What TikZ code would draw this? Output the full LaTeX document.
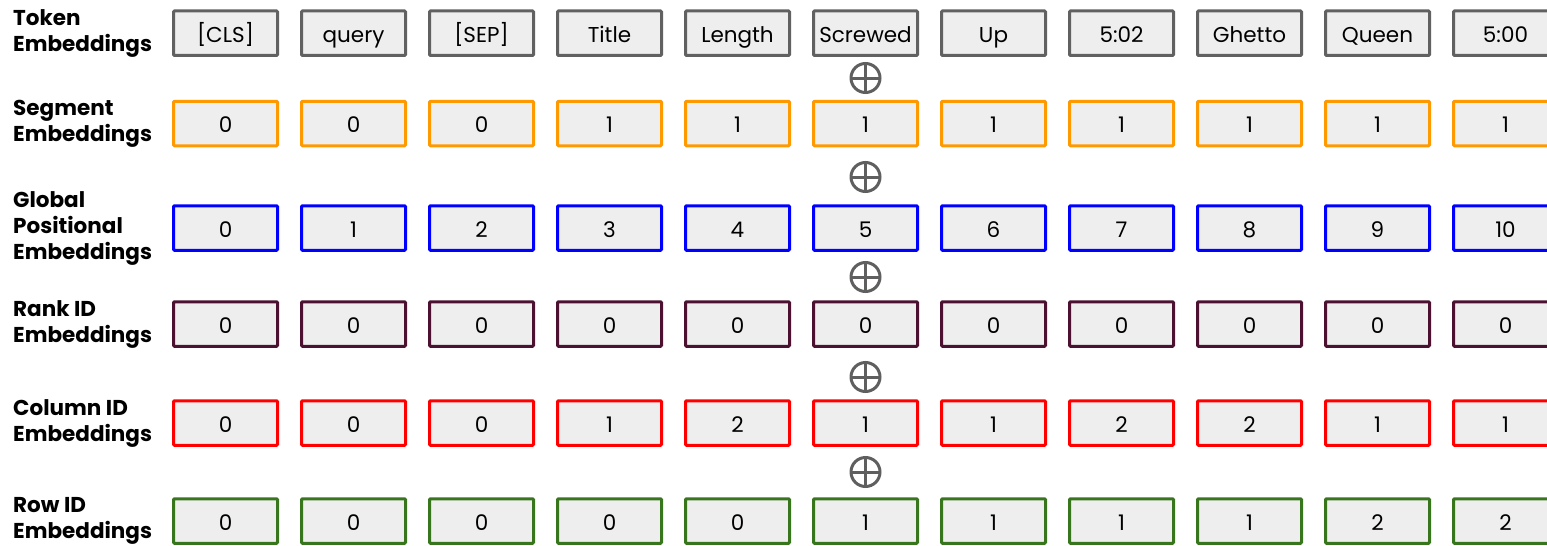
\documentclass[tikz,border=0pt]{standalone}
\usepackage{fontspec}
\setmainfont{Poppins}
\definecolor{boxfill}{HTML}{EEEEEE}
\definecolor{tokc}{HTML}{616161}
\definecolor{segc}{HTML}{FF9900}
\definecolor{posc}{HTML}{0000FF}
\definecolor{rankc}{HTML}{4C1130}
\definecolor{colc}{HTML}{FF0000}
\definecolor{rowc}{HTML}{38761D}
\definecolor{plusc}{HTML}{5F5F5F}
\begin{document}
\begin{tikzpicture}[x=1pt,y=-1pt,
  embbox/.style={draw=#1, fill=boxfill, line width=3pt, rounded corners=1pt,
    minimum width=104pt, minimum height=44.5pt, inner sep=0pt,
    text height=19pt, text depth=1pt,
    font=\fontsize{21.5}{24}\selectfont},
  rowlabel/.style={anchor=west, align=left, inner sep=0pt,
    font=\fontsize{21.5}{26}\selectfont\bfseries},
  oplus/.style={circle, draw=plusc, line width=3pt, minimum size=29pt, inner sep=0pt,
    path picture={\draw[plusc, line width=3pt] (path picture bounding box.north) -- (path picture bounding box.south)
      (path picture bounding box.west) -- (path picture bounding box.east);}}
]
\useasboundingbox (0,0) rectangle (1547,546);
\clip (0,0) rectangle (1547,546);
\def\rowA{33.2}\def\rowB{123.5}\def\rowC{228}\def\rowD{324}\def\rowE{423}\def\rowF{521}
\node[rowlabel] (l1) at (13,\rowA) {Token\\Embeddings};
\node[rowlabel] (l2) at (13,\rowB) {Segment\\Embeddings};
\node[rowlabel] (l3) at (13,\rowC) {Global\\Positional\\Embeddings};
\node[rowlabel] (l4) at (13,\rowD) {Rank ID\\Embeddings};
\node[rowlabel] (l5) at (13,\rowE) {Column ID\\Embeddings};
\node[rowlabel] (l6) at (13,\rowF) {Row ID\\Embeddings};
\foreach \t [count=\i] in {[CLS],query,[SEP],Title,Length,Screwed,Up,5:02,Ghetto,Queen,5:00}
  \node[embbox=tokc] (a\i) at ({225.5+128*(\i-1)},\rowA) {\t};
\foreach \t [count=\i] in {0,0,0,1,1,1,1,1,1,1,1}
  \node[embbox=segc] (b\i) at ({225.5+128*(\i-1)},\rowB) {\t};
\foreach \t [count=\i] in {0,1,2,3,4,5,6,7,8,9,10}
  \node[embbox=posc] (c\i) at ({225.5+128*(\i-1)},\rowC) {\t};
\foreach \t [count=\i] in {0,0,0,0,0,0,0,0,0,0,0}
  \node[embbox=rankc] (d\i) at ({225.5+128*(\i-1)},\rowD) {\t};
\foreach \t [count=\i] in {0,0,0,1,2,1,1,2,2,1,1}
  \node[embbox=colc] (e\i) at ({225.5+128*(\i-1)},\rowE) {\t};
\foreach \t [count=\i] in {0,0,0,0,0,1,1,1,1,2,2}
  \node[embbox=rowc] (f\i) at ({225.5+128*(\i-1)},\rowF) {\t};
\node[oplus] (p1) at (865.5,78) {};
\node[oplus] (p2) at (865.5,177) {};
\node[oplus] (p3) at (865.5,277) {};
\node[oplus] (p4) at (865.5,377) {};
\node[oplus] (p5) at (865.5,472) {};
\end{tikzpicture}
\end{document}
